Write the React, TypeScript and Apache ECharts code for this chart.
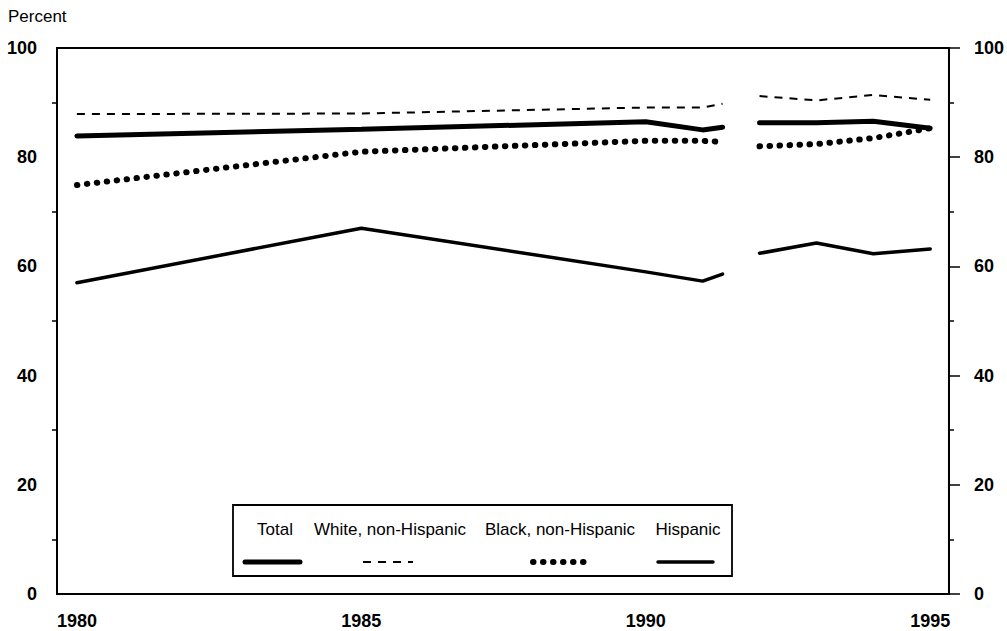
import React, { useEffect, useRef } from "react";
import * as echarts from "echarts";

// Years (first segment ends just after 1991; break; second segment 1992-1995)
const years1 = [1980, 1985, 1990, 1991, 1991.35];
const years2 = [1992, 1993, 1994, 1995];
const breakYear = 1991.7;

const total1 = [83.9, 85.1, 86.5, 85.0, 85.5];
const total2 = [86.3, 86.3, 86.6, 85.3];
const white1 = [87.9, 88.0, 89.1, 89.1, 89.8];
const white2 = [91.2, 90.4, 91.4, 90.5];
const black1 = [74.9, 81.0, 83.0, 83.0, 82.8];
const black2 = [82.0, 82.4, 83.5, 85.3];
const hisp1 = [57.0, 67.0, 59.0, 57.3, 58.6];
const hisp2 = [62.4, 64.3, 62.3, 63.2];

const xTickLabels = [1980, 1985, 1990, 1995];
const yTickLabels = [0, 20, 40, 60, 80, 100];
const leftMinorTicks = [10, 30, 50, 70, 90];
const seriesNames = ["Total", "White, non-Hispanic", "Black, non-Hispanic", "Hispanic"];

function build(a: number[], b: number[]) {
  const out: any[] = [];
  years1.forEach((y, i) => out.push([y, a[i]]));
  out.push([breakYear, "-"]);
  years2.forEach((y, i) => out.push([y, b[i]]));
  return out;
}

const FONT = "'Liberation Sans', Arial, Helvetica, sans-serif";

export default function App() {
  const ref = useRef<HTMLDivElement>(null);
  useEffect(() => {
    document.body.style.margin = "0";
    const chart = echarts.init(ref.current!, null, { renderer: "svg" });
    const lineStyles: any[] = [
      { color: "#000", width: 5, type: "solid", cap: "round" },
      { color: "#000", width: 2, type: [8, 7] },
      { color: "#000", width: 6, type: [0.5, 9.5], cap: "round" },
      { color: "#000", width: 3.5, type: "solid", cap: "round" },
    ];
    const datas = [
      build(total1, total2),
      build(white1, white2),
      build(black1, black2),
      build(hisp1, hisp2),
    ];
    const legendTextX = [275, 390, 560, 688];
    const legendSym: [number, number][] = [
      [245, 300],
      [363, 413],
      [533, 588],
      [658, 713],
    ];
    const graphics: any[] = [
      {
        type: "text",
        left: 8,
        top: 8,
        style: { text: "Percent", font: `17px ${FONT}`, fill: "#000" },
      },
      {
        type: "rect",
        shape: { x: 233, y: 505, width: 499, height: 71 },
        style: { fill: "#fff", stroke: "#000", lineWidth: 1.8 },
        z: 100,
      },
    ];
    seriesNames.forEach((n, i) => {
      graphics.push({
        type: "text",
        x: legendTextX[i],
        y: 529,
        style: {
          text: n,
          font: `17px ${FONT}`,
          fill: "#000",
          align: "center",
          verticalAlign: "middle",
        },
        z: 101,
      });
      const ls = lineStyles[i];
      graphics.push({
        type: "line",
        shape: { x1: legendSym[i][0], y1: 562, x2: legendSym[i][1], y2: 562 },
        style: {
          stroke: "#000",
          lineWidth: ls.width,
          lineDash: Array.isArray(ls.type) ? ls.type : null,
          lineCap: ls.cap || "butt",
        },
        z: 101,
      });
    });

    chart.setOption({
      animation: false,
      backgroundColor: "#fff",
      grid: {
        left: 57,
        right: 58,
        top: 48,
        bottom: 37,
        show: true,
        borderColor: "#000",
        borderWidth: 2,
        backgroundColor: "transparent",
      },
      xAxis: {
        type: "value",
        min: 1979.65,
        max: 1995.33,
        splitLine: { show: false },
        axisLine: { show: true, lineStyle: { color: "#000", width: 2 } },
        axisTick: { show: false },
        axisLabel: {
          customValues: xTickLabels,
          formatter: (v: number) => String(v),
          color: "#000",
          fontSize: 18,
          fontWeight: "bold",
          fontFamily: FONT,
          margin: 18,
        },
      },
      yAxis: [
        {
          type: "value",
          min: 0,
          max: 100,
          interval: 20,
          position: "left",
          splitLine: { show: false },
          axisLine: { show: true, lineStyle: { color: "#000", width: 2 } },
          axisTick: {
            show: true,
            customValues: leftMinorTicks,
            length: 5,
            lineStyle: { color: "#000", width: 1.5 },
          },
          axisLabel: {
            customValues: yTickLabels,
            color: "#000",
            fontSize: 18,
            fontWeight: "bold",
            fontFamily: FONT,
            margin: 20,
          },
        },
        {
          type: "value",
          min: 0,
          max: 100,
          interval: 20,
          position: "right",
          splitLine: { show: false },
          axisLine: { show: true, lineStyle: { color: "#000", width: 2 } },
          axisTick: { show: true, length: 11, lineStyle: { color: "#000", width: 1.5 } },
          minorTick: { show: true, splitNumber: 2, length: 5, lineStyle: { color: "#000", width: 1.5 } },
          axisLabel: {
            color: "#000",
            fontSize: 18,
            fontWeight: "bold",
            fontFamily: FONT,
            margin: 25,
          },
        },
      ],
      series: seriesNames.map((n, i) => ({
        name: n,
        type: "line",
        data: datas[i],
        showSymbol: false,
        symbol: "none",
        connectNulls: false,
        lineStyle: lineStyles[i],
        itemStyle: { color: "#000" },
        z: 5,
      })),
      graphic: graphics,
    });
    return () => chart.dispose();
  }, []);
  return <div ref={ref} style={{ width: 1007, height: 631 }} />;
}
